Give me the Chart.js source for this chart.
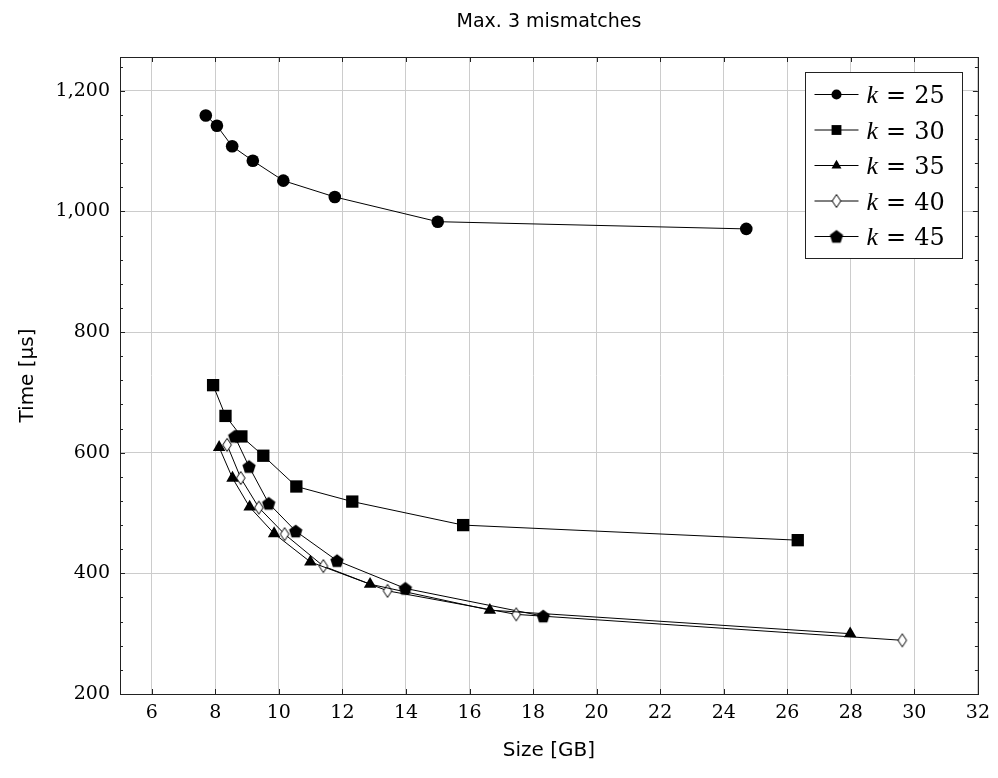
<!DOCTYPE html>
<html>
<head>
<meta charset="utf-8">
<script src="https://cdn.jsdelivr.net/npm/chart.js@4.4.1/dist/chart.umd.min.js"></script>
<style>
  html, body { margin: 0; padding: 0; background: #fff; }
</style>
</head>
<body>
<canvas id="mismatchChart" width="998" height="778"></canvas>
<script>
// values (size in GB, time in microseconds)
const kValues = ['25', '30', '35', '40', '45'];
const sizeK25 = [7.70, 8.05, 8.53, 9.18, 10.14, 11.76, 15.00, 24.71];
const timeK25 = [1159, 1142, 1108, 1084, 1051, 1024, 983, 971];
const sizeK30 = [7.93, 8.32, 8.82, 9.51, 10.55, 12.31, 15.80, 26.33];
const timeK30 = [712, 661, 627, 595, 544, 519, 480, 455];
const sizeK35 = [8.12, 8.54, 9.08, 9.85, 10.99, 12.87, 16.64, 27.98];
const timeK35 = [609, 558, 510, 466, 419, 382, 339, 300];
const sizeK40 = [8.37, 8.80, 9.37, 10.18, 11.40, 13.42, 17.47, 29.62];
const timeK40 = [613, 558, 509, 465, 412, 371, 332, 289];
const sizeK45 = [8.61, 9.06, 9.68, 10.53, 11.83, 13.98, 18.32];
const timeK45 = [627, 577, 516, 470, 421, 375, 329];
const xTicks = [6, 8, 10, 12, 14, 16, 18, 20, 22, 24, 26, 28, 30, 32];
const yTicks = [200, 400, 600, 800, 1000, 1200];
const chartTitle = 'Max. 3 mismatches';

const serif = "'Liberation Serif', serif";
const tickSerif = "'DejaVu Serif', serif";
const sans = "'DejaVu Sans', 'Liberation Sans', sans-serif";

Chart.defaults.font.family = tickSerif;
Chart.defaults.color = '#000';

function makeMarker(kind) {
    const c = document.createElement('canvas');
    c.width = 18;
    c.height = 18;
    const g = c.getContext('2d');
    g.translate(9, 9);
    g.beginPath();
    if (kind === 'diamond') {
        g.moveTo(0, -6.5); g.lineTo(4.3, 0); g.lineTo(0, 6.5); g.lineTo(-4.3, 0);
        g.closePath();
        g.fillStyle = '#fff';
        g.fill();
        g.lineWidth = 1;
        g.strokeStyle = '#000';
        g.stroke();
    } else {
        // pentagon, point up
        for (let i = 0; i < 5; i++) {
            const a = -Math.PI / 2 + i * 2 * Math.PI / 5;
            const px = Math.cos(a) * 7, py = Math.sin(a) * 7 + 0.6;
            if (i === 0) g.moveTo(px, py); else g.lineTo(px, py);
        }
        g.closePath();
        g.fillStyle = '#000';
        g.fill();
    }
    return c;
}

const diamondMark = makeMarker('diamond');
const pentagonMark = makeMarker('pentagon');

function pts(xs, ys) {
    return xs.map((x, i) => ({ x: x, y: ys[i] }));
}

function series(label, xs, ys, style, radius) {
    return {
        label: label,
        data: pts(xs, ys),
        showLine: true,
        borderColor: '#000',
        borderWidth: 1,
        backgroundColor: '#000',
        pointStyle: style,
        pointRadius: radius,
        pointHoverRadius: radius,
        pointBackgroundColor: '#000',
        pointBorderColor: '#000',
        pointBorderWidth: 0
    };
}

const datasets = [
    series(kValues[0], sizeK25, timeK25, 'circle', 6.3),
    series(kValues[1], sizeK30, timeK30, 'rect', 8.7),
    series(kValues[2], sizeK35, timeK35, 'triangle', 7.2),
    series(kValues[3], sizeK40, timeK40, diamondMark, 6),
    series(kValues[4], sizeK45, timeK45, pentagonMark, 6)
];

// title, frame, inward ticks (pgfplots style) and the boxed legend
const framePlugin = {
    id: 'frame',
    afterDraw(chart) {
        const ctx = chart.ctx;
        const a = chart.chartArea;
        const xs = chart.scales.x, ys = chart.scales.y;
        ctx.save();

        ctx.fillStyle = '#000';
        ctx.font = '19px ' + sans;
        ctx.textAlign = 'center';
        ctx.textBaseline = 'middle';
        ctx.fillText(chartTitle, (a.left + a.right) / 2, 22);

        ctx.strokeStyle = '#222';
        ctx.lineWidth = 1;
        ctx.beginPath();
        xTicks.forEach(v => {
            const px = Math.round(xs.getPixelForValue(v)) + 0.5;
            ctx.moveTo(px, a.bottom); ctx.lineTo(px, a.bottom - 5);
            ctx.moveTo(px, a.top); ctx.lineTo(px, a.top + 5);
        });
        yTicks.forEach(v => {
            const py = Math.round(ys.getPixelForValue(v)) + 0.5;
            ctx.moveTo(a.left, py); ctx.lineTo(a.left + 5, py);
            ctx.moveTo(a.right, py); ctx.lineTo(a.right - 5, py);
        });
        for (let v = 240; v < ys.max; v += 40) {
            if (v % 200 === 0) continue;
            const py = Math.round(ys.getPixelForValue(v)) + 0.5;
            ctx.moveTo(a.left, py); ctx.lineTo(a.left + 3, py);
            ctx.moveTo(a.right, py); ctx.lineTo(a.right - 3, py);
        }
        ctx.stroke();
        ctx.strokeRect(Math.round(a.left) + 0.5, Math.round(a.top) + 0.5,
            Math.round(a.right - a.left), Math.round(a.bottom - a.top));

        // legend
        const bw = 157, bh = 186;
        const bx = Math.round(a.right) - 16 - bw + 0.5;
        const by = Math.round(a.top) + 15 + 0.5;
        ctx.fillStyle = '#fff';
        ctx.fillRect(bx, by, bw, bh);
        ctx.strokeRect(bx, by, bw, bh);
        chart.data.datasets.forEach((ds, i) => {
            const cy = by + 22 + i * 35.5;
            ctx.beginPath();
            ctx.moveTo(bx + 9, cy);
            ctx.lineTo(bx + 53, cy);
            ctx.strokeStyle = '#000';
            ctx.stroke();
            ctx.fillStyle = '#000';
            Chart.helpers.drawPoint(ctx, {
                pointStyle: ds.pointStyle,
                radius: ds.pointRadius * 0.8,
                rotation: 0,
                borderWidth: 0
            }, bx + 31, cy);
            ctx.fillStyle = '#000';
            ctx.textBaseline = 'alphabetic';
            ctx.textAlign = 'left';
            let tx = bx + 61;
            const base = cy + 8.5;
            ctx.font = 'italic 26px ' + serif;
            ctx.fillText('k', tx, base);
            tx += ctx.measureText('k').width + 8;
            ctx.font = '24px ' + tickSerif;
            ctx.fillText('=', tx, base);
            tx += ctx.measureText('=').width + 8;
            ctx.fillText(ds.label, tx, base);
        });
        ctx.restore();
    }
};

const ctx = document.getElementById('mismatchChart').getContext('2d');

const config = {
    type: 'scatter',
    data: { datasets: datasets },
    options: {
        responsive: false,
        animation: false,
        devicePixelRatio: 1,
        layout: { padding: { left: 0, right: 17, top: 57, bottom: 0 } },
        plugins: {
            legend: { display: false },
            tooltip: { enabled: false },
            title: { display: false }
        },
        scales: {
            x: {
                type: 'linear',
                min: 5,
                max: 32,
                afterBuildTicks: s => { s.ticks = xTicks.map(v => ({ value: v })); },
                afterFit: s => { s.height = 84; },
                grid: { color: '#cccccc', lineWidth: 1, drawTicks: false },
                border: { display: false },
                ticks: {
                    padding: 8,
                    color: '#000',
                    autoSkip: false,
                    maxRotation: 0,
                    font: { family: tickSerif, size: 19 }
                },
                title: {
                    display: true,
                    text: 'Size [GB]',
                    color: '#000',
                    font: { family: sans, size: 20 },
                    padding: { top: 0, bottom: 15 }
                }
            },
            y: {
                type: 'linear',
                min: 200,
                max: 1256,
                afterBuildTicks: s => { s.ticks = yTicks.map(v => ({ value: v })); },
                afterFit: s => { s.width = 120; },
                grid: { color: '#cccccc', lineWidth: 1, drawTicks: false },
                border: { display: false },
                ticks: {
                    padding: 10,
                    color: '#000',
                    font: { family: tickSerif, size: 19 },
                    callback: v => v.toLocaleString('en-US')
                },
                title: {
                    display: true,
                    text: 'Time [\u03bcs]',
                    color: '#000',
                    font: { family: sans, size: 20 },
                    padding: { top: 16, bottom: 0 }
                }
            }
        }
    },
    plugins: [framePlugin]
};

const mismatchChart = new Chart(ctx, config);
</script>
</body>
</html>
